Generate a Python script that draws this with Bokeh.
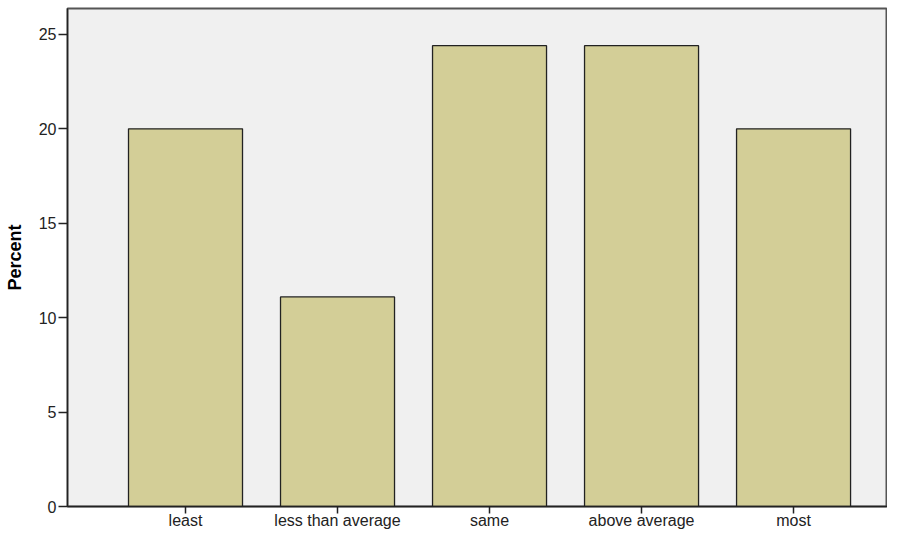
from bokeh.plotting import figure
from bokeh.models import Range1d, FixedTicker, ColumnDataSource
from bokeh.embed import file_html
from bokeh.resources import INLINE

categories = ["least", "less than average", "same", "above average", "most"]
percents = [20.0, 11.1, 24.4, 24.4, 20.0]
y_ticks = [0, 5, 10, 15, 20, 25]

xpos = [i + 1 for i in range(len(categories))]
src = ColumnDataSource(dict(x=xpos, top=percents, cat=categories))

p = figure(width=887, height=531, output_backend="svg", toolbar_location=None,
           x_range=Range1d(0.2237, 5.618), y_range=Range1d(0, 26.37),
           min_border_left=67, min_border_right=0, min_border_top=8, min_border_bottom=22)

p.background_fill_color = "#F0F0F0"
p.border_fill_color = "white"
p.outline_line_color = "#555555"
p.outline_line_width = 2

p.vbar(x="x", top="top", bottom=0, width=0.75, source=src,
       fill_color="#D3CE97", line_color="#222222", line_width=1.3)

p.xgrid.visible = False
p.ygrid.visible = False

p.xaxis.ticker = FixedTicker(ticks=xpos)
p.xaxis.major_label_overrides = {x: c for x, c in zip(xpos, categories)}
p.yaxis.ticker = FixedTicker(ticks=y_ticks)

for ax in (p.xaxis[0], p.yaxis[0]):
    ax.axis_line_color = "#222222"
    ax.axis_line_width = 1.3
    ax.major_tick_line_color = "#222222"
    ax.major_tick_line_width = 1.5
    ax.major_tick_in = 0
    ax.major_tick_out = 9
    ax.minor_tick_line_color = None
    ax.major_label_text_font = "Liberation Sans"
    ax.major_label_text_font_size = "16px"
    ax.major_label_text_color = "#222222"
    ax.major_label_standoff = 2

p.xaxis.major_tick_out = 7
p.xaxis.major_label_standoff = -2

p.yaxis.axis_label = "Percent"
p.yaxis.axis_label_text_font = "Liberation Sans"
p.yaxis.axis_label_text_font_style = "bold"
p.yaxis.axis_label_text_font_size = "18px"
p.yaxis.axis_label_text_color = "#000000"
p.yaxis.axis_label_standoff = 11

open("out.html", "w").write(file_html(p, INLINE))
